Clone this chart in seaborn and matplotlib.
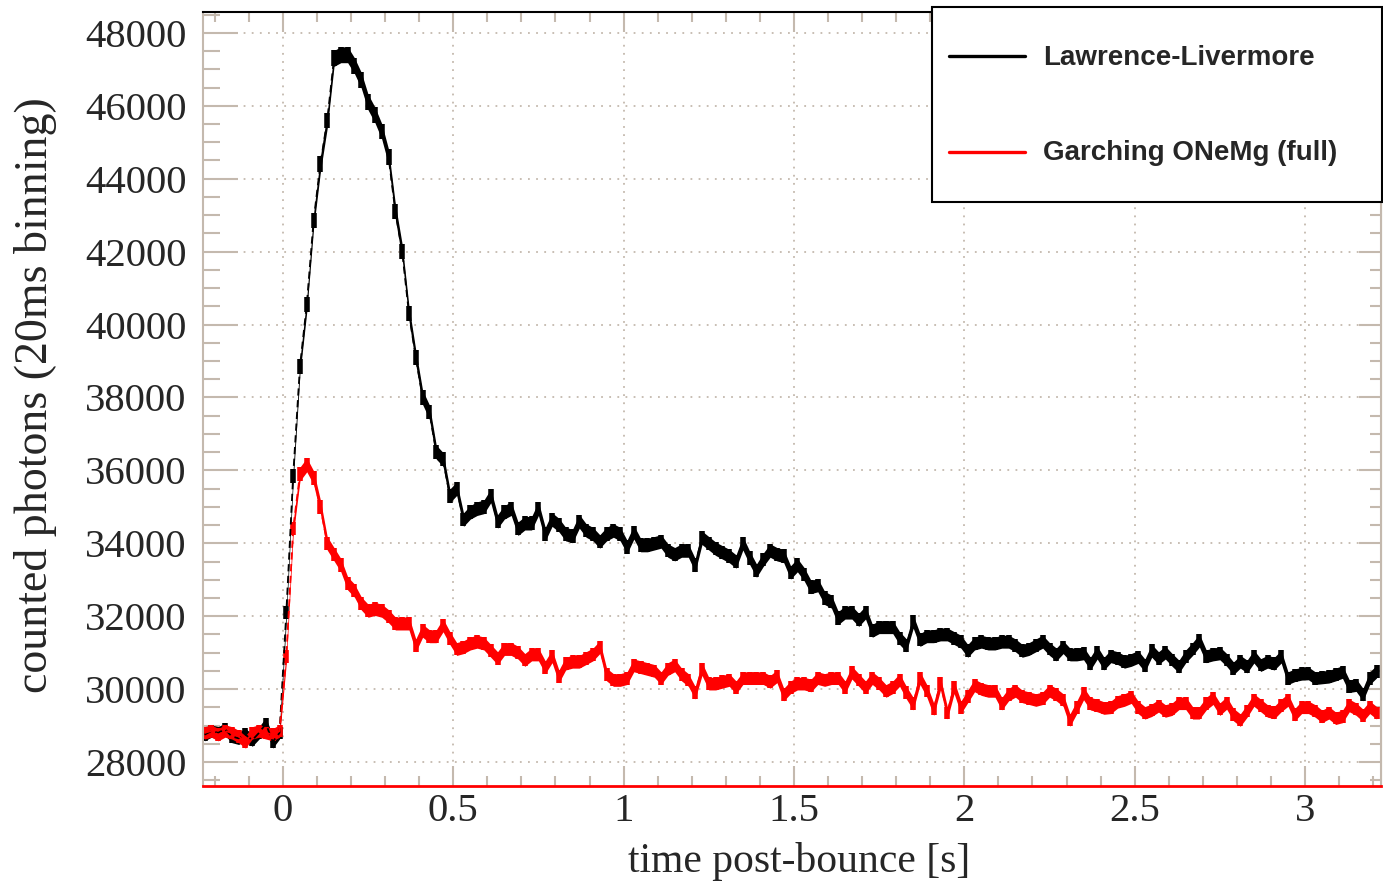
import numpy as np
import pandas as pd
import matplotlib
matplotlib.use("Agg")
import matplotlib.pyplot as plt
import seaborn as sns
from matplotlib.lines import Line2D
from matplotlib.legend_handler import HandlerLine2D
from matplotlib.ticker import MultipleLocator, FuncFormatter

# 20 ms bins, centres from -0.23 s to 3.21 s
bin_width = 0.02
time_bins = np.round(-0.23 + bin_width * np.arange(173), 2)

labels = ["Lawrence-Livermore", "Garching ONeMg (full)"]
colors = ["black", "red"]

livermore = [
    28750, 28850, 28800, 28900, 28700, 28650, 28750, 28600, 28800, 29050, 28550, 28800,
    32100, 35850, 38850, 40550, 42850, 44400, 45600, 47300, 47400, 47400, 47100, 46700,
    46100, 45750, 45300, 44600, 43100, 42000, 40300, 39100, 38000, 37600, 36500, 36300, 35300,
    35500, 34650, 34850, 34950, 35000, 35300, 34600, 34850, 34950, 34400, 34550, 34550,
    34950, 34250, 34650, 34500, 34250, 34200, 34600, 34350, 34250, 34050, 34250, 34350, 34250,
    33900, 34300, 33950, 33950, 34000, 34050, 33800, 33700, 33800, 33800, 33400, 34150,
    34000, 33850, 33750, 33650, 33500, 34000, 33600, 33250, 33550, 33800, 33700, 33650, 33200,
    33400, 33150, 32800, 32850, 32500, 32400, 31950, 32100, 32100, 31900, 32100, 31600,
    31700, 31700, 31700, 31400, 31200, 31850, 31350, 31450, 31450, 31500, 31500, 31400, 31300,
    31050, 31250, 31300, 31250, 31250, 31300, 31300, 31200, 31050, 31100, 31200, 31300,
    31100, 30950, 31150, 30950, 30950, 30980, 30700, 31000, 30700, 30900, 30850, 30750, 30800,
    30880, 30650, 31050, 30850, 31000, 30800, 30620, 30900, 31100, 31330, 30900, 30950,
    30980, 30800, 30570, 30750, 30620, 30890, 30660, 30750, 30700, 30890, 30300, 30380, 30420,
    30430, 30300, 30320, 30340, 30400, 30470, 30080, 30110, 29850, 30300, 30480,
]

garching = [
    28800, 28850, 28750, 28850, 28800, 28700, 28550, 28800, 28850, 28800, 28750, 28850,
    30900, 34400, 35900, 36150, 35800, 35000, 34000, 33700, 33400, 32900, 32700, 32350,
    32150, 32200, 32150, 32000, 31800, 31800, 31800, 31200, 31600, 31450, 31450, 31750, 31400,
    31100, 31150, 31250, 31300, 31250, 31050, 30850, 31100, 31100, 31000, 30800, 30950,
    30950, 30600, 30900, 30350, 30700, 30750, 30750, 30850, 30950, 31150, 30400, 30250, 30250,
    30300, 30650, 30600, 30550, 30500, 30300, 30550, 30650, 30400, 30250, 29900, 30550,
    30150, 30150, 30200, 30250, 30050, 30300, 30300, 30300, 30300, 30200, 30350, 29850, 30050,
    30150, 30150, 30100, 30300, 30250, 30300, 30300, 30050, 30450, 30250, 30050, 30300,
    30150, 29950, 30050, 30250, 29900, 29600, 30300, 29950, 29450, 30150, 29350, 30050, 29500,
    29800, 30100, 30000, 29950, 29950, 29600, 29850, 29950, 29800, 29750, 29700, 29750,
    29950, 29850, 29700, 29150, 29500, 29880, 29600, 29550, 29480, 29500, 29650, 29700, 29780,
    29500, 29350, 29420, 29540, 29400, 29450, 29610, 29610, 29350, 29350, 29600, 29750,
    29450, 29620, 29300, 29150, 29400, 29700, 29550, 29400, 29360, 29550, 29700, 29300, 29500,
    29500, 29400, 29250, 29350, 29200, 29250, 29550, 29450, 29280, 29500, 29350,
]

df = pd.DataFrame({
    "time": np.concatenate([time_bins, time_bins]),
    "counts": np.concatenate([livermore, garching]),
    "model": np.repeat(labels, len(time_bins)),
})
df["err"] = np.sqrt(df["counts"])  # poisson error on the counts

tan = "#c4b9ae"

sns.set_style("white")
plt.rcParams["font.family"] = ["Liberation Serif", "DejaVu Serif"]

fig = plt.figure(figsize=(13.83, 8.85), dpi=100)
ax = fig.add_axes([203 / 1383, 1 - 786 / 885, 1178 / 1383, 774 / 885])

for lab, col in zip(labels, colors):
    d = df[df["model"] == lab]
    ax.fill_between(d["time"], d["counts"] - d["err"], d["counts"] + d["err"],
                    color=col, lw=0, zorder=2)
    ax.errorbar(d["time"], d["counts"], yerr=d["err"], fmt="none",
                ecolor=col, elinewidth=4, zorder=2)
    sns.lineplot(data=d, x="time", y="counts", color=col, linewidth=1.3,
                 linestyle=(0, (4, 2.5)), ax=ax, legend=False, zorder=3)

ax.set_xlim(-0.2346, 3.223)
ax.set_ylim(27342, 48573)

ax.xaxis.set_major_locator(MultipleLocator(0.5))
ax.xaxis.set_minor_locator(MultipleLocator(0.1))
ax.yaxis.set_major_locator(MultipleLocator(2000))
ax.yaxis.set_minor_locator(MultipleLocator(500))
ax.xaxis.set_major_formatter(FuncFormatter(lambda v, p: f"{v:g}"))
ax.yaxis.set_major_formatter(FuncFormatter(lambda v, p: f"{v:.0f}"))

ax.tick_params(axis="y", which="major", direction="in", length=25, width=1.5,
               color=tan, pad=12, labelsize=29.3, left=True, right=False)
ax.tick_params(axis="y", which="minor", direction="in", length=12.5, width=1.5,
               color=tan, left=True, right=False)
ax.tick_params(axis="x", which="major", direction="in", length=14.5, width=1.5,
               color=tan, pad=5, labelsize=29.3, bottom=True, top=True)
ax.tick_params(axis="x", which="minor", direction="in", length=7, width=1.5,
               color=tan, bottom=True, top=True)

sec = ax.secondary_yaxis("right")
sec.yaxis.set_major_locator(MultipleLocator(2000))
sec.yaxis.set_minor_locator(MultipleLocator(500))
sec.tick_params(axis="y", which="major", direction="in", length=16, width=1.5,
                color=tan, labelright=False)
sec.tick_params(axis="y", which="minor", direction="in", length=8, width=1.5,
                color=tan)
sec.spines["right"].set_color(tan)

ax.grid(True, which="major", color=tan, linestyle=(0, (1, 3.5)), linewidth=1.3)
ax.set_axisbelow(True)

for side in ["left", "right"]:
    ax.spines[side].set_color(tan)
    ax.spines[side].set_linewidth(1.5)
ax.spines["top"].set_color("black")
ax.spines["top"].set_linewidth(1.5)
ax.spines["bottom"].set_color("red")
ax.spines["bottom"].set_linewidth(2)

ax.set_xlabel("time post-bounce [s]", fontsize=30)
ax.set_ylabel("counted photons (20ms binning)", fontsize=33)
ax.xaxis.set_label_coords(0.506, -0.072)
ax.xaxis.label.set_va("top")
ax.yaxis.set_label_coords(-0.124, 0.505)


def centre_on_text(legline, orig):
    # tall handle boxes put the line above the text, pull it down to the label
    legline.update_from(orig)
    legline.set_ydata(np.asarray(legline.get_ydata()) - 8.6)


handles = [Line2D([], [], color=c, lw=2.4) for c in colors]
leg = ax.legend(handles, labels, loc="upper left",
                bbox_to_anchor=(932 / 1383, 1 - 200 / 885, 450 / 1383, 193 / 885),
                bbox_transform=fig.transFigure, mode="expand", borderaxespad=0,
                prop=dict(family="Liberation Sans", weight="bold", size=20),
                handlelength=2.75, handletextpad=0.65, handleheight=3.3,
                labelspacing=1.05, borderpad=0.6, frameon=True, fancybox=False,
                edgecolor="black", framealpha=1,
                handler_map={Line2D: HandlerLine2D(update_func=centre_on_text)})
leg.get_frame().set_linewidth(1.5)
leg.set_zorder(10)

fig.savefig("out.png", dpi=100)
